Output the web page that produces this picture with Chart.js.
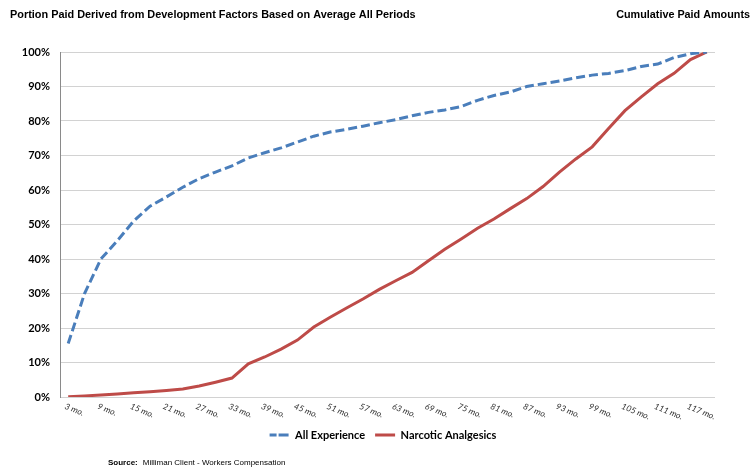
<!DOCTYPE html>
<html><head><meta charset="utf-8">
<script src="https://cdn.jsdelivr.net/npm/chart.js@4"></script>
<style>html,body{margin:0;padding:0;background:#fff}#wrap{width:752px;height:467px;position:relative}</style>
</head><body><div id="wrap"><canvas id="c"></canvas></div>
<script>
const categories = ['3 mo.','6 mo.','9 mo.','12 mo.','15 mo.','18 mo.','21 mo.','24 mo.','27 mo.','30 mo.',
  '33 mo.','36 mo.','39 mo.','42 mo.','45 mo.','48 mo.','51 mo.','54 mo.','57 mo.','60 mo.',
  '63 mo.','66 mo.','69 mo.','72 mo.','75 mo.','78 mo.','81 mo.','84 mo.','87 mo.','90 mo.',
  '93 mo.','96 mo.','99 mo.','102 mo.','105 mo.','108 mo.','111 mo.','114 mo.','117 mo.','120 mo.'];
const allExperience = [15.5, 30, 40, 45.3, 51, 55.3, 58, 60.8, 63.3, 65.2,
  67, 69.3, 70.8, 72.2, 73.9, 75.6, 76.8, 77.6, 78.5, 79.5,
  80.4, 81.5, 82.5, 83.2, 84.2, 86, 87.4, 88.4, 90, 90.8,
  91.6, 92.5, 93.3, 93.8, 94.6, 95.8, 96.5, 98.4, 99.5, 100];
const narcoticAnalgesics = [0.1, 0.3, 0.6, 0.9, 1.2, 1.5, 1.9, 2.3, 3.2, 4.3,
  5.5, 9.6, 11.6, 13.9, 16.5, 20.3, 23.1, 25.8, 28.4, 31.2,
  33.7, 36.1, 39.5, 42.8, 45.8, 48.9, 51.6, 54.6, 57.5, 61,
  65.2, 69, 72.5, 77.8, 83, 87, 90.8, 93.8, 97.8, 100];
const seriesNames = ['All Experience', 'Narcotic Analgesics'];
const titleLeft = 'Portion Paid Derived from Development Factors Based on Average All Periods';
const titleRight = 'Cumulative Paid Amounts';
const sourceLabel = 'Source:';
const sourceText = 'Milliman Client - Workers Compensation';

const textPlugin = {
  id: 'texts',
  afterDraw(chart) {
    const ctx = chart.ctx;
    const xs = chart.scales.x;
    ctx.save();
    ctx.fillStyle = '#000';
    ctx.textBaseline = 'middle';
    ctx.textAlign = 'left';
    ctx.font = 'bold 10.9px "Liberation Sans", Arial, sans-serif';
    ctx.fillText(titleLeft, 10, 15);
    ctx.textAlign = 'right';
    ctx.font = 'bold 10.8px "Liberation Sans", Arial, sans-serif';
    ctx.fillText(titleRight, 750, 15);
    ctx.textAlign = 'left';
    ctx.font = 'bold 8px "Liberation Sans", Arial, sans-serif';
    ctx.fillText(sourceLabel, 108, 463);
    const w = ctx.measureText(sourceLabel).width;
    ctx.font = '8px "Liberation Sans", Arial, sans-serif';
    ctx.fillText(sourceText, 108 + w + 5, 463);
    // x tick labels (every other category), slanted
    ctx.font = 'italic 8.5px Lato, sans-serif';
    ctx.fillStyle = '#333';
    ctx.textBaseline = 'top';
    categories.forEach((lab, i) => {
      if (i % 2) return;
      const x = xs.getPixelForValue(i);
      ctx.save();
      ctx.translate(x - 1.5, xs.top + 5);
      ctx.rotate(22 * Math.PI / 180);
      ctx.fillText(lab, 0, 0);
      ctx.restore();
    });
    ctx.restore();
  }
};

new Chart(document.getElementById('c'), {
  type: 'line',
  data: {
    labels: categories,
    datasets: [
      { label: seriesNames[0], data: allExperience, borderColor: '#4a7ebb', backgroundColor: '#4a7ebb',
        borderWidth: 3, borderDash: [9, 4], pointRadius: 0, tension: 0, fill: false },
      { label: seriesNames[1], data: narcoticAnalgesics, borderColor: '#be4b48', backgroundColor: '#be4b48',
        borderWidth: 3, pointRadius: 0, tension: 0, fill: false }
    ]
  },
  options: {
    responsive: true, maintainAspectRatio: false, animation: false,
    layout: { padding: { left: 14, right: 0, top: 52, bottom: 16.5 } },
    scales: {
      x: {
        offset: true,
        grid: { display: false, drawTicks: false },
        border: { display: false },
        ticks: { display: false },
        afterFit(s) { s.height = 22.5; }
      },
      y: {
        min: 0, max: 100,
        afterFit(s) { s.width = 46; },
        grid: { color: '#d2d2d2', lineWidth: 1, drawTicks: false },
        border: { display: true, color: '#8a8a8a', width: 1 },
        ticks: { stepSize: 10, padding: 10, color: '#000',
          font: { family: 'Lato', weight: 'bold', size: 11 },
          callback: v => v + '%' }
      },
      yRight: {
        position: 'right', min: 0, max: 100,
        afterFit(s) { s.width = 37; },
        grid: { display: false, drawTicks: false },
        border: { display: false },
        ticks: { display: false }
      }
    },
    plugins: {
      legend: {
        position: 'bottom',
        labels: {
          boxWidth: 20, boxHeight: 0, padding: 10, color: '#000',
          font: { family: 'Lato', weight: 'bold', size: 11 },
          generateLabels(chart) {
            const items = Chart.defaults.plugins.legend.labels.generateLabels(chart);
            items.forEach(it => { if (it.datasetIndex === 0) it.lineDash = [7, 5]; it.lineWidth = 3; });
            return items;
          }
        }
      },
      tooltip: { enabled: false },
      title: { display: false }
    }
  },
  plugins: [textPlugin]
});
</script></body></html>
